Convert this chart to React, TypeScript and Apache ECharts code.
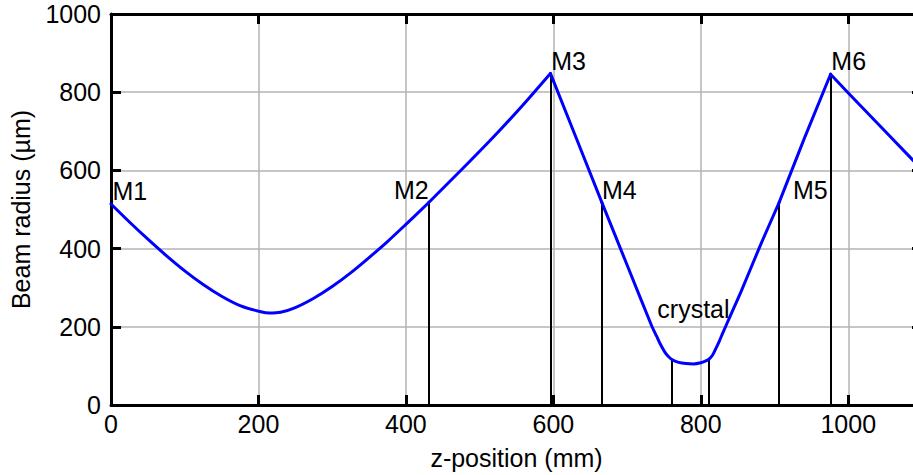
import React, { useEffect, useRef } from "react";
import * as echarts from "echarts";

// Beam radius along the cavity (z in mm, radius in µm)
const beamZ = [0, 25, 50, 75, 100, 125, 150, 175, 200, 215, 230, 250, 275, 300, 325, 350, 375, 400, 431,
  475, 520, 560, 596,
  631, 666, 700, 733, 740, 745, 751, 756, 762, 770, 780, 790, 800, 806, 811, 816, 820, 825, 830, 840, 855, 880, 906,
  940, 976, 1000, 1050, 1100];
const beamR = [514, 468, 424, 382, 343, 308, 278, 254, 240, 235, 237, 249, 273, 303, 338, 377, 418, 462, 518,
  601, 688, 770, 848,
  683, 517, 358, 204, 176, 156, 136, 124, 115, 109, 106, 105, 108, 112, 117, 128, 143, 163, 185, 228, 292, 405, 517,
  680, 846, 798, 700, 602];

// Optical elements: position and the beam radius they reach
const elementZ = [0, 431, 596, 666, 761, 810.5, 906, 976];
const elementR = [514, 518, 848, 517, 117, 117, 517, 846];

// Mirror positions where the beam path has a kink (segment boundaries)
const kinkZ = [0, 431, 596, 666, 906, 976, 1100];
const segmentSmooth = [0.35, 0.2, 0, 0.25, 0, 0];

// Text labels
const labelText = ["M1", "M2", "M3", "M4", "crystal", "M5", "M6"];
const labelZ = [2, 431, 597, 666, 790, 972, 977];
const labelR = [547, 551, 880, 551, 245, 549, 880];
const labelAlign = ["left", "right", "left", "left", "center", "right", "left"];

const xTicks = [0, 200, 400, 600, 800, 1000];
const yTicks = [0, 200, 400, 600, 800, 1000];

const FONT = "'Liberation Sans', Arial, Helvetica, sans-serif";
const FS = 25;

export default function App() {
  const ref = useRef<HTMLDivElement>(null);
  useEffect(() => {
    if (!ref.current) return;
    const chart = echarts.init(ref.current, null, { renderer: "svg" });
    const axisLineStyle = { color: "#000", width: 3 };
    const tickStyle = { show: true, inside: true, length: 10, lineStyle: { color: "#000", width: 3 } };
    const gridLine = { show: true, lineStyle: { color: "#b3b3b3", width: 1.5, type: "solid" } };
    const plain = (v: number) => String(v);

    const beamSeries = segmentSmooth.map((s, k) => {
      const a = kinkZ[k];
      const b = kinkZ[k + 1];
      const pts: number[][] = [];
      beamZ.forEach((z, i) => {
        if (z >= a && z <= b) pts.push([z, beamR[i]]);
      });
      return {
        type: "line",
        name: "beam" + k,
        data: pts,
        smooth: s,
        showSymbol: false,
        symbol: "none",
        lineStyle: { color: "#0000ff", width: 3, cap: "round", join: "round" },
        z: 5,
      };
    });

    chart.setOption({
      animation: false,
      backgroundColor: "#fff",
      textStyle: { fontFamily: FONT },
      grid: { left: 111, right: 8, top: 14, bottom: 69, containLabel: false },
      xAxis: [
        {
          type: "value",
          min: xTicks[0],
          max: 1100,
          interval: 200,
          name: "z-position (mm)",
          nameLocation: "middle",
          nameGap: 40,
          nameTextStyle: { color: "#000", fontSize: FS, fontFamily: FONT },
          axisLine: { show: true, onZero: false, lineStyle: axisLineStyle },
          axisTick: tickStyle,
          axisLabel: { color: "#000", fontSize: FS, fontFamily: FONT, margin: 6, showMaxLabel: false, formatter: plain },
          splitLine: gridLine,
        },
        {
          type: "value",
          position: "top",
          min: xTicks[0],
          max: 1100,
          interval: 200,
          axisLine: { show: true, onZero: false, lineStyle: axisLineStyle },
          axisTick: tickStyle,
          axisLabel: { show: false },
          splitLine: { show: false },
        },
      ],
      yAxis: [
        {
          type: "value",
          min: yTicks[0],
          max: yTicks[yTicks.length - 1],
          interval: 200,
          name: "Beam radius (µm)",
          nameLocation: "middle",
          nameGap: 78,
          nameTextStyle: { color: "#000", fontSize: FS, fontFamily: FONT },
          axisLine: { show: true, onZero: false, lineStyle: axisLineStyle },
          axisTick: tickStyle,
          axisLabel: { color: "#000", fontSize: FS, fontFamily: FONT, margin: 10, formatter: plain },
          splitLine: gridLine,
        },
        {
          type: "value",
          position: "right",
          min: yTicks[0],
          max: yTicks[yTicks.length - 1],
          interval: 200,
          axisLine: { show: true, onZero: false, lineStyle: axisLineStyle },
          axisTick: tickStyle,
          axisLabel: { show: false },
          splitLine: { show: false },
        },
      ],
      series: [
        {
          type: "line",
          name: "elements",
          data: [],
          z: 2,
          markLine: {
            silent: true,
            symbol: ["none", "none"],
            label: { show: false },
            lineStyle: { color: "#000", width: 2, type: "solid" },
            data: elementZ.map((z, i) => [
              { coord: [z, 0] },
              { coord: [z, elementR[i]] },
            ]),
          },
        },
        ...beamSeries,
        {
          type: "scatter",
          name: "labels",
          symbolSize: 0,
          itemStyle: { opacity: 1, color: "#000" },
          z: 6,
          data: labelText.map((t, i) => ({
            value: [labelZ[i], labelR[i]],
            name: t,
            label: {
              show: true,
              position: "inside",
              formatter: t,
              align: labelAlign[i],
              verticalAlign: "middle",
              color: "#000",
              opacity: 1,
              textBorderWidth: 0,
              textBorderColor: "transparent",
              fontSize: FS,
              fontFamily: FONT,
            },
          })),
        },
      ],
    });
    return () => chart.dispose();
  }, []);
  return (
    <div style={{ position: "fixed", left: 0, top: 0, width: 913, height: 475, overflow: "hidden", background: "#fff" }}>
      <div ref={ref} style={{ width: 930, height: 475 }} />
    </div>
  );
}
